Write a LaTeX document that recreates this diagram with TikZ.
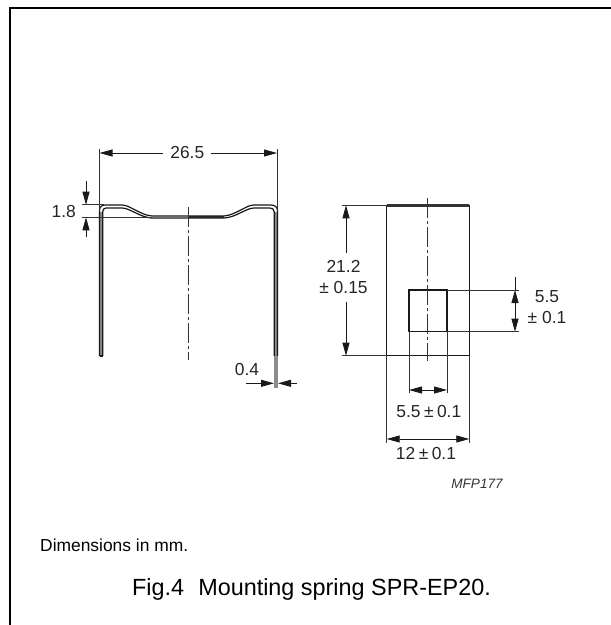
\documentclass[tikz,border=0pt]{standalone}
\usepackage{fontspec}
\setmainfont{Liberation Sans}
\usetikzlibrary{arrows.meta}
\tikzset{x=1pt,y=-1pt,
 dimline/.style={line width=0.8pt,black!90},
 dimarrow/.style={dimline,{Triangle[length=13pt,width=7pt]}-{Triangle[length=13pt,width=7pt]}},
 tip/.style={dimline,-{Triangle[length=13pt,width=7pt]}},
 extline/.style={line width=0.8pt,black!80},
 part/.style={line width=1.2pt,black!90},
 axis/.style={line width=0.7pt,black!80,dash pattern=on 20pt off 3pt on 3pt off 3pt},
 lab/.style={font=\fontsize{17.4}{21}\selectfont,text=black!85,inner sep=0pt},
 frameline/.style={line width=2pt,black}}
\begin{document}
\begin{tikzpicture}
\useasboundingbox (0,0) rectangle (611,625);
\fill[white] (0,0) rectangle (611,625);
% frame
\draw[frameline] (10,625) -- (10,7.6) -- (611,7.6);
% spring
\fill[black!45] (274.5,212) rectangle (277.5,356);
\fill[black!45] (99.8,212) rectangle (102.5,356);
\draw[part] (99.5,356) -- (99.5,211) .. controls (99.5,207) and (101.5,205) .. (105,205) -- (122,205)
  .. controls (130,205) and (140,215) .. (152,216) -- (224,216) .. controls (236,215) and (246,205) .. (254,205)
  -- (271,205) .. controls (275,205) and (277.5,207) .. (277.5,211) -- (277.5,356);
\draw[part] (102.7,356) -- (102.7,212) .. controls (102.7,209.5) and (104,208) .. (106,208) -- (122,208)
  .. controls (130,208) and (140,217.5) .. (152,218) -- (224,218) .. controls (236,217.5) and (246,208) .. (254,208)
  -- (270,208) .. controls (272.5,208) and (274.3,209.5) .. (274.3,212) -- (274.3,356);
\draw[part] (99.5,356) -- (102.7,356);
\draw[line width=2.2pt,black!85] (188,217) -- (224,217);
\draw[line width=3.2pt,black!45] (276,356) -- (276,388);
\draw[axis] (188,207) -- (188,360);
% dim 26.5
\coordinate (wl) at (99.5,153); \coordinate (wr) at (277,153);
\draw[extline] (99.5,149) -- (99.5,210);
\draw[extline] (277.3,149) -- (277.3,210);
\node[lab] (w) at (187.3,152.7) {26.5};
\draw[tip] (162.5,153) -- (wl);
\draw[tip] (211,153) -- (wr);
% dim 1.8
\node[lab,anchor=east] (h) at (76,212) {1.8};
\draw[extline] (82,204.7) -- (104,204.7);
\draw[extline] (82,217.3) -- (152,217.3);
\draw[tip] (86,181) -- (86,204.7);
\draw[tip] (86,237) -- (86,217.3);
% dim 0.4
\node[lab] (t) at (247,370) {0.4};
\draw[tip] (246,383.3) -- (274,383.3);
\draw[tip] (297,383.3) -- (278,383.3);
% front view
\draw[part] (386.7,205.7) rectangle (469.3,355.7);
\draw[line width=2.2pt,black!80] (386.7,205.5) -- (469.3,205.5);
\draw[line width=1.2pt,black!90] (409,290) rectangle (447,331.7);
\draw[axis] (427.7,198) -- (427.7,361);
% dim 21.2
\draw[extline] (342,205.3) -- (386.7,205.3);
\draw[extline] (342,355.7) -- (386.7,355.7);
\node[lab,align=center] (hh) at (343.5,277.5) {21.2\\± 0.15};
\draw[tip] (346,253) -- (346,205.3);
\draw[tip] (346,301.5) -- (346,355.7);
% dim 5.5 right
\draw[extline] (447,290) -- (519,290);
\draw[extline] (447,331.7) -- (519,331.7);
\draw[dimarrow] (515,290) -- (515,331.7);
\draw[dimline] (515,277) -- (515,290);
\node[lab,align=center] (sq) at (547,307.5) {5.5\\± 0.1};
% dim 5.5 bottom
\draw[extline] (409,331.7) -- (409,393);
\draw[extline] (447,331.7) -- (447,393);
\draw[dimarrow] (409,390) -- (447,390);
\node[lab] (sb) at (428.8,412) {5.5\hspace{0.2em}±\hspace{0.2em}0.1};
% dim 12
\draw[extline] (386.7,355.7) -- (386.7,443);
\draw[extline] (469.3,355.7) -- (469.3,443);
\draw[dimarrow] (386.7,439) -- (469.3,439);
\node[lab] (tw) at (426,454) {12\hspace{0.2em}±\hspace{0.2em}0.1};
\node[font=\fontsize{13.6}{15}\selectfont\itshape,text=black!80,inner sep=0pt] (mfp) at (477,484) {MFP177};
\node[font=\fontsize{17.4}{20}\selectfont,anchor=west,inner sep=0pt] (dim) at (40,545) {Dimensions in mm.};
\node[font=\fontsize{23.4}{26}\selectfont,anchor=west,inner sep=0pt] (fig) at (132,589) {Fig.4\hspace{0.6em}Mounting spring SPR-EP20.};
\end{tikzpicture}
\end{document}
